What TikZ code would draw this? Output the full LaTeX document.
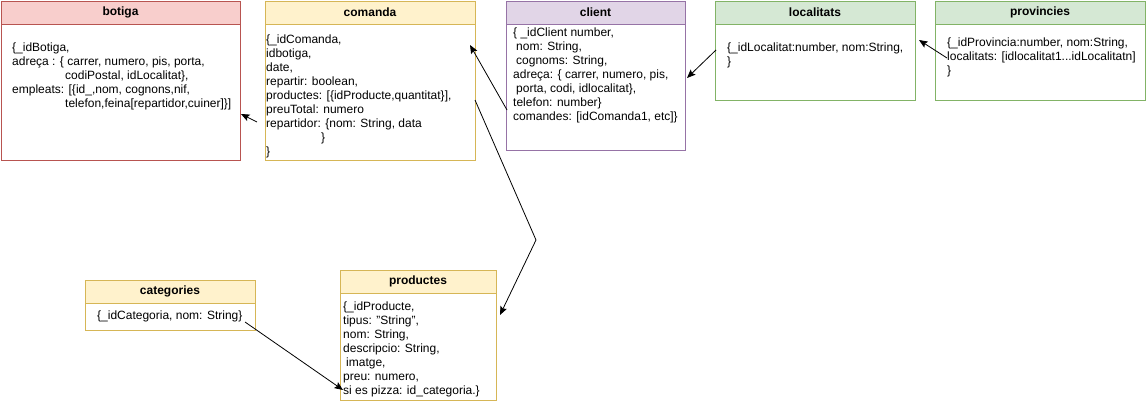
\documentclass[tikz,border=0pt]{standalone}
\usepackage{fontspec}
\setmainfont{Liberation Sans}
\usetikzlibrary{arrows.meta,calc}
\definecolor{redF}{HTML}{F8CECC}\definecolor{redD}{HTML}{B85450}
\definecolor{yelF}{HTML}{FFF2CC}\definecolor{yelD}{HTML}{D6B656}
\definecolor{purF}{HTML}{E1D5E7}\definecolor{purD}{HTML}{9673A6}
\definecolor{grnF}{HTML}{D5E8D4}\definecolor{grnD}{HTML}{82B366}
\tikzset{
  body/.style={draw=#1, fill=white, line width=0.9pt, anchor=north west, inner sep=0pt, outer sep=0pt},
  head/.style={draw=#1, line width=0.9pt, anchor=north west, inner sep=0pt, outer sep=0pt, minimum height=23pt, font=\fontsize{12}{14}\selectfont\bfseries},
  txt/.style={anchor=north west, inner sep=0pt, align=left, font=\fontsize{12}{14}\selectfont},
  conn/.style={line width=0.8pt, -{Stealth[length=8.5pt,width=7pt,inset=1.5pt]}}
}
\newcommand\entity[8]{%
  \node[body=#7, minimum width=#4pt, minimum height=#5pt] (#1) at (#2,#3) {};
  \node[head=#7, fill=#6, minimum width=#4pt] (#1h) at (#2,#3) {#8};
}
\begin{document}
\begin{tikzpicture}[x=1pt,y=-1pt]
\useasboundingbox (0,0) rectangle (1146,406);
\entity{botiga}{1}{1}{239}{159}{redF}{redD}{botiga}
\entity{comanda}{265}{1}{210}{159}{yelF}{yelD}{comanda}
\entity{client}{506}{1}{179}{149}{purF}{purD}{client}
\entity{localitats}{715}{1}{200}{99}{grnF}{grnD}{localitats}
\entity{provincies}{935}{1}{210}{99}{grnF}{grnD}{provincies}
\entity{categories}{85}{280}{170}{50}{yelF}{yelD}{categories}
\entity{productes}{340}{270}{156}{130}{yelF}{yelD}{productes}

\node[txt] (tbotiga) at (12,43) {\{\_idBotiga,\\
adreça : \{ carrer, numero, pis, porta,\\
\hspace*{53pt}codiPostal, idLocalitat\},\\
empleats: [\{id\_,nom, cognons,nif,\\
\hspace*{53pt}telefon,feina[repartidor,cuiner]\}]};

\node[txt] (tcomanda) at (266,35) {\{\_idComanda,\\
idbotiga,\\
date,\\
repartir: boolean,\\
productes: [\{idProducte,quantitat\}],\\
preuTotal: numero\\
repartidor: \{nom: String, data\\
\hspace*{55pt}\}\\
\}};

\node[txt] (tclient) at (513,28) {\{ \_idClient number,\\
\hspace*{3pt}nom: String,\\
\hspace*{3pt}cognoms: String,\\
adreça: \{ carrer, numero, pis,\\
\hspace*{3pt}porta, codi, idlocalitat\},\\
telefon: number\}\\
comandes: [idComanda1, etc]\}};

\node[txt] (tlocalitats) at (727,43) {\{\_idLocalitat:number, nom:String,\\
\}};

\node[txt] (tprovincies) at (947,38) {\{\_idProvincia:number, nom:String,\\
localitats: [idlocalitat1...idLocalitatn]\\
\}};

\node[txt] (tcategories) at (97,311) {\{\_idCategoria, nom: String\}};

\node[txt] (tproductes) at (343,302) {\{\_idProducte,\\
tipus: "String",\\
nom: String,\\
descripcio: String,\\
\hspace*{3pt}imatge,\\
preu: numero,\\
si es pizza: id\_categoria.\}};

\coordinate (c1s) at ($(comanda.north west)+(-8,121)$);
\coordinate (c1e) at ($(botiga.north east)+(1,113)$);
\draw[conn] (c1s) -- (c1e);

\coordinate (c2s) at ($(client.north west)+(1,109)$);
\coordinate (c2e) at ($(comanda.north east)+(-5,44)$);
\draw[conn] (c2s) -- (c2e);

\coordinate (c3s) at ($(comanda.north east)+(0,99)$);
\coordinate (c3m) at (536,240);
\coordinate (c3e) at ($(productes.north east)+(4,45)$);
\draw[conn] (c3s) -- (c3m) -- (c3e);

\coordinate (c4s) at ($(localitats.north west)+(1,49)$);
\coordinate (c4e) at ($(client.north east)+(2,77)$);
\draw[conn] (c4s) -- (c4e);

\coordinate (c5s) at ($(provincies.north west)+(12,57)$);
\coordinate (c5e) at ($(localitats.north east)+(4,39)$);
\draw[conn] (c5s) -- (c5e);

\coordinate (c6s) at ($(categories.north east)+(-10,42)$);
\coordinate (c6e) at ($(productes.north west)+(3,120)$);
\draw[conn] (c6s) -- (c6e);
\end{tikzpicture}
\end{document}
